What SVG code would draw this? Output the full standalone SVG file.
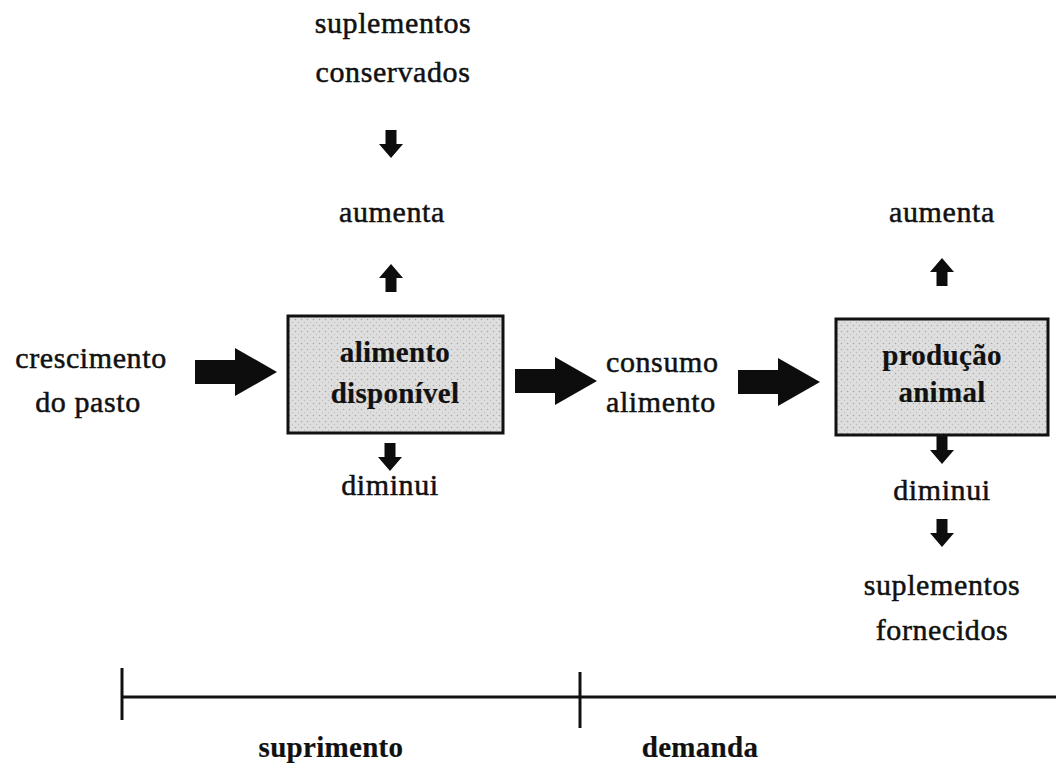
<svg xmlns="http://www.w3.org/2000/svg" width="1056" height="766" viewBox="0 0 1056 766">
  <style>
    .t { font-family: "Liberation Serif", "DejaVu Serif", serif; font-size: 30px; letter-spacing: 0.6px; fill: #111; stroke: #111; stroke-width: 0.5; text-anchor: middle; }
    .b { font-weight: bold; font-size: 29px; letter-spacing: 0.3px; stroke-width: 0.2; }
    .l { text-anchor: start; }
    .box { fill: url(#stipple); stroke: #111; stroke-width: 3; }
    .arrow { fill: #0d0d0d; }
    .axis { stroke: #111; stroke-width: 3; fill: none; }
  </style>
  <defs>
    <!-- stippled grey fill used inside the two boxes -->
    <pattern id="stipple" width="6" height="6" patternUnits="userSpaceOnUse">
      <rect width="6" height="6" fill="#dedede"/>
      <circle cx="1.5" cy="1.5" r="0.8" fill="#a8a8a8"/>
      <circle cx="4.5" cy="4.5" r="0.7" fill="#bdbdbd"/>
    </pattern>
    <!-- large block arrow pointing right, origin at the tail centre -->
    <path id="bigArrow" d="M0,-12 H40 V-24 L82,0 L40,24 V12 H0 Z"/>
    <!-- small block arrow pointing down, origin at the tail centre -->
    <path id="smallDown" d="M-5.5,0 H5.5 V14 H12 L0,28 L-12,14 H-5.5 Z"/>
  </defs>

  <!-- connectors -->
  <g id="connectors" class="arrow">
    <use href="#bigArrow" x="195" y="372"/>
    <use href="#bigArrow" x="515" y="381"/>
    <use href="#bigArrow" x="738" y="382"/>
    <use href="#smallDown" x="391" y="130"/>
    <use href="#smallDown" transform="translate(391,292) rotate(180)"/>
    <use href="#smallDown" x="390" y="443"/>
    <use href="#smallDown" transform="translate(942,286) rotate(180)"/>
    <use href="#smallDown" x="942" y="436"/>
    <use href="#smallDown" x="942" y="519"/>
  </g>

  <g id="suplementos-conservados">
    <text class="t" x="393" y="33">suplementos</text>
    <text class="t" x="393" y="82">conservados</text>
  </g>

  <g id="aumenta-suprimento">
    <text class="t" x="392" y="222">aumenta</text>
  </g>

  <g id="crescimento-pasto">
    <text class="t" x="91" y="368">crescimento</text>
    <text class="t" x="88" y="412">do pasto</text>
  </g>

  <g id="alimento-disponivel">
    <rect class="box" x="288" y="316" width="215" height="117"/>
    <text class="t b" x="395" y="362">alimento</text>
    <text class="t b" x="395" y="403">disponível</text>
  </g>

  <g id="diminui-suprimento">
    <text class="t" x="390" y="495">diminui</text>
  </g>

  <g id="consumo-alimento">
    <text class="t l" x="606" y="372">consumo</text>
    <text class="t l" x="606" y="412">alimento</text>
  </g>

  <g id="aumenta-demanda">
    <text class="t" x="942" y="222">aumenta</text>
  </g>

  <g id="producao-animal">
    <rect class="box" x="836" y="319" width="212" height="116"/>
    <text class="t b" x="942" y="365">produção</text>
    <text class="t b" x="942" y="402">animal</text>
  </g>

  <g id="diminui-demanda">
    <text class="t" x="942" y="500">diminui</text>
  </g>

  <g id="suplementos-fornecidos">
    <text class="t" x="942" y="595">suplementos</text>
    <text class="t" x="942" y="640">fornecidos</text>
  </g>

  <!-- supply / demand axis -->
  <g id="axis">
    <line class="axis" x1="122" y1="697" x2="1056" y2="697"/>
    <line class="axis" x1="122" y1="668" x2="122" y2="720"/>
    <line class="axis" x1="580" y1="672" x2="580" y2="728"/>
    <text class="t b" x="331" y="757">suprimento</text>
    <text class="t b" x="700" y="757">demanda</text>
  </g>
</svg>
